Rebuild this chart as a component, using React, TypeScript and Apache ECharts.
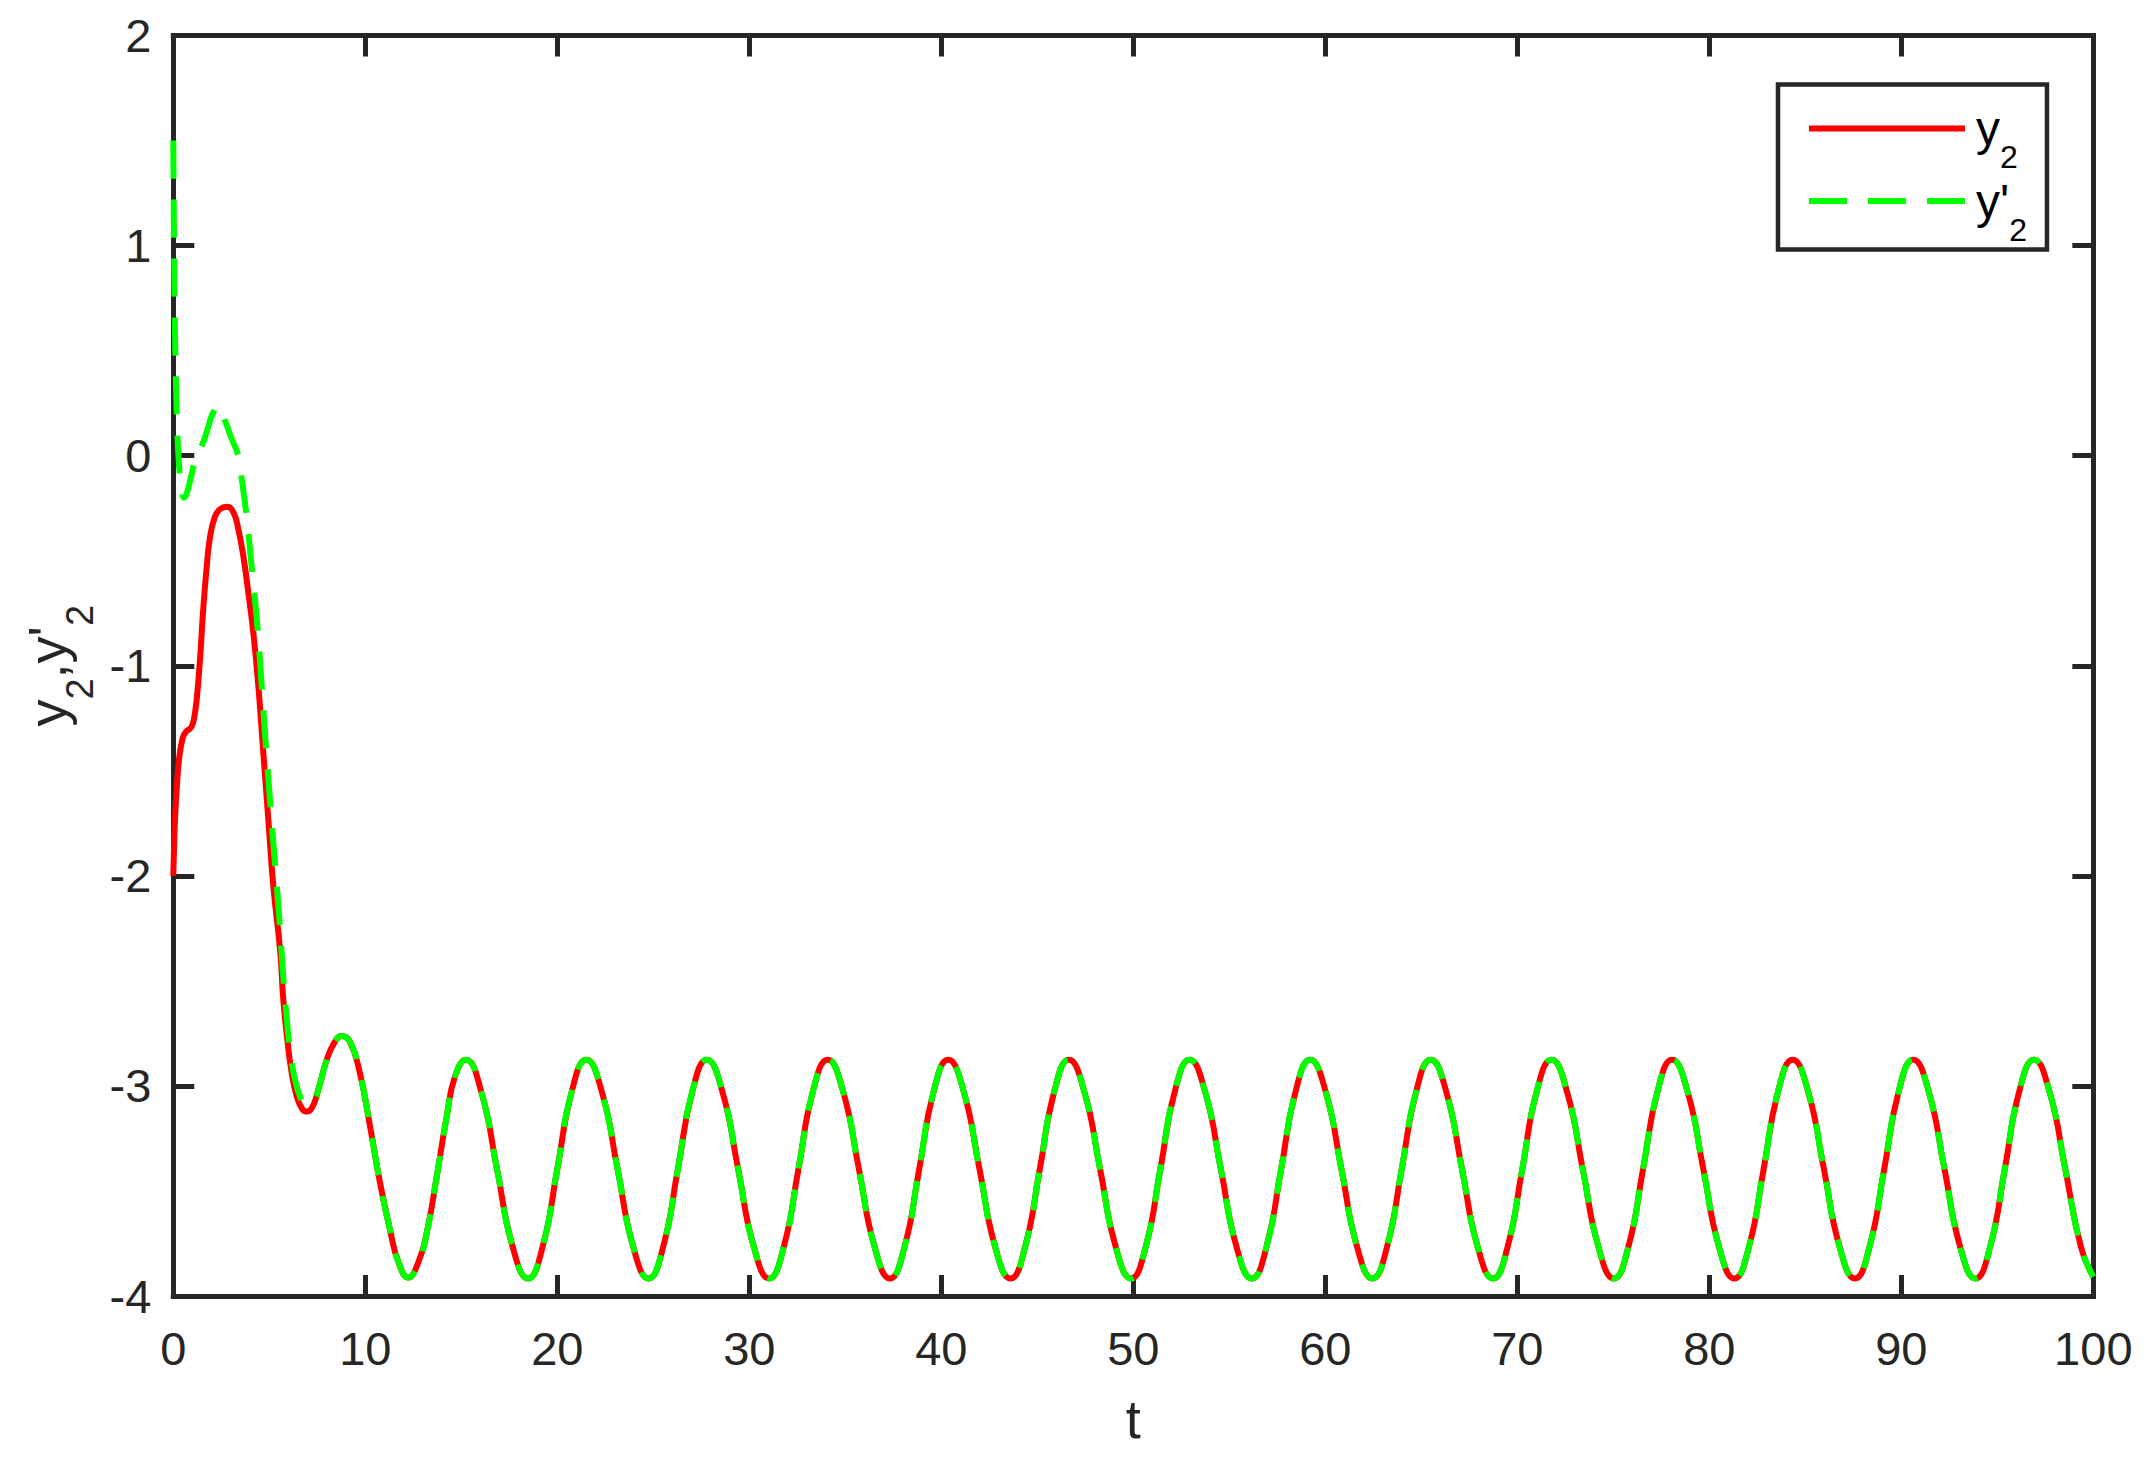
import React, { useEffect, useRef } from "react";
import * as echarts from "echarts";

// ---- data ----
// y2 (red, solid): initial transient
const tRedHead = [0, 0.04, 0.09, 0.17, 0.26, 0.35, 0.45, 0.55, 0.7, 0.87, 1.0, 1.1, 1.22, 1.39, 1.56, 1.74, 1.91, 2.17, 2.43, 2.78, 3.13, 3.39, 3.65, 3.91, 4.17, 4.43, 4.69, 4.95, 5.21, 5.56, 5.73, 5.94, 6.17, 6.43, 6.69, 6.91, 7.21, 7.55];
const y2Head = [-2.0, -1.86, -1.73, -1.6, -1.48, -1.41, -1.36, -1.33, -1.31, -1.3, -1.28, -1.24, -1.16, -0.97, -0.73, -0.53, -0.39, -0.29, -0.255, -0.243, -0.27, -0.352, -0.48, -0.654, -0.844, -1.098, -1.416, -1.733, -2.05, -2.352, -2.59, -2.78, -2.94, -3.05, -3.106, -3.122, -3.106, -3.019];

// y'2 (green, dashed): initial transient
const tGreenHead = [0, 0.01, 0.03, 0.06, 0.1, 0.15, 0.2, 0.27, 0.35, 0.45, 0.55, 0.7, 0.9, 1.15, 1.5, 1.8, 2.05, 2.35, 2.7, 3.0, 3.4, 3.55, 3.82, 4.03, 4.34, 4.57, 4.79, 5.02, 5.26, 5.52, 5.73, 5.99, 6.17, 6.34, 6.6, 6.85, 7.03, 7.3, 7.55];
const y2pHead = [1.5, 1.35, 1.1, 0.8, 0.52, 0.3, 0.14, 0.0, -0.1, -0.17, -0.2, -0.18, -0.11, -0.02, 0.05, 0.13, 0.2, 0.235, 0.165, 0.09, -0.005, -0.1, -0.29, -0.48, -0.77, -1.05, -1.34, -1.62, -1.9, -2.2, -2.48, -2.76, -2.89, -2.97, -3.05, -3.085, -3.09, -3.07, -3.019];

// common part (both curves coincide after t ≈ 7.5)
const tCommon = [
  7.99, 8.42, 8.77, 9.2, 9.72, 10.25, 10.77, 11.29, 11.72, 12.24, 12.76, 13.2, 13.72, 14.24, 14.67,
  15.23, 16.04, 16.86, 17.67, 18.48, 19.24, 20.0, 20.75,
  21.51, 22.32, 23.14, 23.95, 24.76, 25.52, 26.28, 27.03,
  27.79, 28.6, 29.42, 30.23, 31.04, 31.8, 32.56, 33.31,
  34.08, 34.89, 35.71, 36.52, 37.33, 38.09, 38.85, 39.6,
  40.36, 41.17, 41.99, 42.8, 43.61, 44.37, 45.13, 45.88,
  46.64, 47.45, 48.27, 49.08, 49.89, 50.65, 51.41, 52.16,
  52.93, 53.74, 54.56, 55.37, 56.18, 56.94, 57.7, 58.45,
  59.21, 60.02, 60.84, 61.65, 62.46, 63.22, 63.98, 64.73,
  65.49, 66.3, 67.12, 67.93, 68.74, 69.5, 70.26, 71.01,
  71.78, 72.59, 73.41, 74.22, 75.03, 75.79, 76.55, 77.3,
  78.06, 78.87, 79.69, 80.5, 81.31, 82.07, 82.83, 83.58,
  84.34, 85.15, 85.97, 86.78, 87.59, 88.35, 89.11, 89.86,
  90.62, 91.43, 92.25, 93.06, 93.87, 94.63, 95.39, 96.14,
  96.91, 97.72, 98.54, 99.35, 100
];
const yCommon = [
  -2.876, -2.789, -2.762, -2.789, -2.94, -3.194, -3.463, -3.686, -3.837, -3.912, -3.84, -3.7, -3.432, -3.146, -2.956,
  -2.875, -3.028, -3.396, -3.764, -3.917, -3.764, -3.396, -3.028,
  -2.875, -3.028, -3.396, -3.764, -3.917, -3.764, -3.396, -3.028,
  -2.875, -3.028, -3.396, -3.764, -3.917, -3.764, -3.396, -3.028,
  -2.875, -3.028, -3.396, -3.764, -3.917, -3.764, -3.396, -3.028,
  -2.875, -3.028, -3.396, -3.764, -3.917, -3.764, -3.396, -3.028,
  -2.875, -3.028, -3.396, -3.764, -3.917, -3.764, -3.396, -3.028,
  -2.875, -3.028, -3.396, -3.764, -3.917, -3.764, -3.396, -3.028,
  -2.875, -3.028, -3.396, -3.764, -3.917, -3.764, -3.396, -3.028,
  -2.875, -3.028, -3.396, -3.764, -3.917, -3.764, -3.396, -3.028,
  -2.875, -3.028, -3.396, -3.764, -3.917, -3.764, -3.396, -3.028,
  -2.875, -3.028, -3.396, -3.764, -3.917, -3.764, -3.396, -3.028,
  -2.875, -3.028, -3.396, -3.764, -3.917, -3.764, -3.396, -3.028,
  -2.875, -3.028, -3.396, -3.764, -3.917, -3.764, -3.396, -3.028,
  -2.875, -3.028, -3.396, -3.764, -3.908
];

const seriesNames = ["y2", "y'2"];
const xRange = { min: 0, max: 100, interval: 10 };
const yRange = { min: -4, max: 2, interval: 1 };

function zip(t: number[], y: number[]): number[][] {
  return t.map((v, i) => [v, y[i]]);
}

export default function App() {
  const ref = useRef<HTMLDivElement>(null);

  useEffect(() => {
    if (!ref.current) return;
    const chart = echarts.init(ref.current, null, { renderer: "svg" });
    const font = "'Liberation Sans', Arial, Helvetica, sans-serif";
    const axisColor = "#262626";
    const axisLine = { show: true, onZero: false, lineStyle: { color: axisColor, width: 5, cap: "square" } };
    const tick = { show: true, inside: true, length: 21, lineStyle: { color: axisColor, width: 5 } };

    const redData = zip(tRedHead, y2Head).concat(zip(tCommon, yCommon));
    const greenData = zip(tGreenHead, y2pHead).concat(zip(tCommon, yCommon));

    chart.setOption({
      animation: false,
      backgroundColor: "#ffffff",
      grid: { left: 173.3, top: 35.5, right: 53.7, bottom: 162, containLabel: false },
      xAxis: [
        {
          type: "value", position: "bottom", ...xRange,
          axisLine,
          axisTick: tick,
          splitLine: { show: false },
          axisLabel: { fontSize: 47, color: axisColor, fontFamily: font, margin: 29 },
          name: "t", nameLocation: "middle", nameGap: 96,
          nameTextStyle: { fontSize: 54, color: axisColor, fontFamily: font },
        },
        {
          type: "value", position: "top", ...xRange,
          axisLine,
          axisTick: tick,
          splitLine: { show: false },
          axisLabel: { show: false },
        },
      ],
      yAxis: [
        {
          type: "value", position: "left", ...yRange,
          axisLine,
          axisTick: tick,
          splitLine: { show: false },
          axisLabel: { fontSize: 47, color: axisColor, fontFamily: font, margin: 22, padding: [6, 0, 0, 0] },
          name: "{m|y}{s|2}{m|,y'}{s|2}", nameLocation: "middle", nameGap: 81,
          nameTextStyle: {
            color: axisColor, fontFamily: font,
            rich: {
              m: { fontSize: 54, lineHeight: 54, verticalAlign: "top", color: axisColor, fontFamily: font },
              s: { fontSize: 38, lineHeight: 38, verticalAlign: "top", padding: [41, 0, 0, 0], color: axisColor, fontFamily: font },
            },
          },
        },
        {
          type: "value", position: "right", ...yRange,
          axisLine,
          axisTick: tick,
          splitLine: { show: false },
          axisLabel: { show: false },
        },
      ],
      legend: {
        show: true,
        orient: "vertical",
        left: 1778,
        top: 84.5,
        padding: [20, 20, 4, 28],
        itemGap: 4,
        itemWidth: 156,
        itemHeight: 20,
        backgroundColor: "#ffffff",
        borderColor: axisColor,
        borderWidth: 4.5,
        borderRadius: 0,
        data: seriesNames,
        itemStyle: { opacity: 0 },
        lineStyle: { width: 6 },
        formatter: (name: string) => (name === seriesNames[0] ? "{m|y}{s|2}" : "{m|y'}{s|2}"),
        textStyle: {
          fontFamily: font,
          color: "#000000",
          rich: {
            m: { fontSize: 48, lineHeight: 48, verticalAlign: "top", color: "#000000", fontFamily: font, padding: [0, 0, 0, 6] },
            s: { fontSize: 32, lineHeight: 32, verticalAlign: "top", padding: [36.5, 0, 0, 0], color: "#000000", fontFamily: font },
          },
        },
      },
      series: [
        {
          name: seriesNames[0],
          type: "line",
          data: redData,
          xAxisIndex: 0, yAxisIndex: 0,
          smooth: true,
          symbol: "none",
          showSymbol: false,
          lineStyle: { color: "#ff0000", width: 6 },
          itemStyle: { color: "#ff0000" },
          z: 2,
        },
        {
          name: seriesNames[1],
          type: "line",
          data: greenData,
          xAxisIndex: 0, yAxisIndex: 0,
          smooth: true,
          symbol: "none",
          showSymbol: false,
          lineStyle: { color: "#00ff00", width: 6, type: [38, 21], cap: "butt" },
          itemStyle: { color: "#00ff00" },
          z: 3,
        },
      ],
    });
    return () => chart.dispose();
  }, []);

  return (
    <div
      ref={ref}
      style={{ position: "absolute", left: 0, top: 0, width: 2147, height: 1458 }}
    />
  );
}
